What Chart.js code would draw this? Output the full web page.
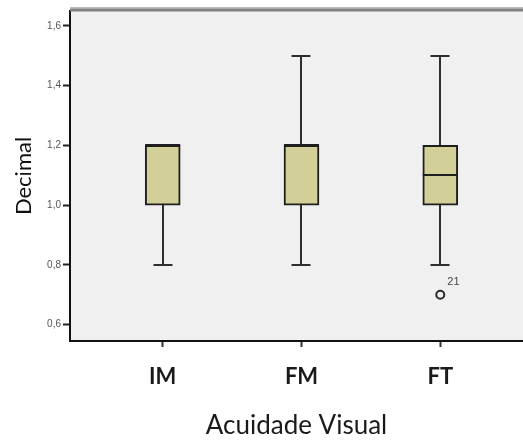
<!DOCTYPE html>
<html><head><meta charset="utf-8">
<script src="https://cdn.jsdelivr.net/npm/chart.js@4"></script>
<style>html,body{margin:0;padding:0;background:#fff}#wrap{width:523px;height:441px}</style>
</head><body><div id="wrap"><canvas id="c" width="523" height="441"></canvas></div>
<script>
// ---- data ----
const categories = ['IM', 'FM', 'FT'];
const whiskerLow = [0.8, 0.8, 0.8];
const q1 = [1.0, 1.0, 1.0];
const median = [1.2, 1.2, 1.1];
const q3 = [1.2, 1.2, 1.2];
const whiskerHigh = [1.2, 1.5, 1.5];
const outlierCategory = [3];
const outlierValue = [0.7];
const outlierLabel = ['21'];
const yAxisTitle = 'Decimal';
const xAxisTitle = 'Acuidade Visual';

const catPos = categories.map((c, i) => i + 1);

const boxPlugin = {
  id: 'boxplot',
  beforeDraw(chart) {
    const { ctx, chartArea: a } = chart;
    ctx.save();
    ctx.fillStyle = '#f0f0f0';
    ctx.fillRect(a.left, a.top, a.right - a.left, a.bottom - a.top);
    ctx.restore();
  },
  beforeDatasetsDraw(chart) {
    const { ctx, scales: { x, y } } = chart;
    ctx.save();
    ctx.strokeStyle = '#2e2e2e';
    ctx.lineWidth = 2;
    catPos.forEach((p, i) => {
      const px = Math.round(x.getPixelForValue(p));
      ctx.beginPath();
      ctx.moveTo(px, y.getPixelForValue(whiskerHigh[i]));
      ctx.lineTo(px, y.getPixelForValue(q3[i]));
      ctx.moveTo(px, y.getPixelForValue(q1[i]));
      ctx.lineTo(px, y.getPixelForValue(whiskerLow[i]));
      ctx.stroke();
      ctx.beginPath();
      if (whiskerHigh[i] > q3[i]) {
        const yh = Math.round(y.getPixelForValue(whiskerHigh[i]));
        ctx.moveTo(px - 9.5, yh); ctx.lineTo(px + 9.5, yh);
      }
      const yl = Math.round(y.getPixelForValue(whiskerLow[i]));
      ctx.moveTo(px - 9.5, yl); ctx.lineTo(px + 9.5, yl);
      ctx.stroke();
    });
    ctx.restore();
  },
  afterDatasetsDraw(chart) {
    const { ctx, scales: { x, y } } = chart;
    ctx.save();
    ctx.strokeStyle = '#1e1e1e';
    ctx.lineWidth = 2;
    catPos.forEach((p, i) => {
      const px = x.getPixelForValue(p);
      const ym = Math.round(y.getPixelForValue(median[i]));
      ctx.beginPath();
      ctx.moveTo(px - 17.5, ym); ctx.lineTo(px + 17.5, ym);
      ctx.stroke();
    });
    ctx.fillStyle = '#444';
    ctx.font = '11px "Liberation Sans", Arial, sans-serif';
    ctx.textAlign = 'left';
    ctx.textBaseline = 'alphabetic';
    outlierCategory.forEach((c, i) => {
      const px = x.getPixelForValue(c);
      const py = y.getPixelForValue(outlierValue[i]);
      ctx.fillText(outlierLabel[i], px + 7, py - 10);
    });
    ctx.restore();
  },
  afterDraw(chart) {
    const { ctx, chartArea: a } = chart;
    ctx.save();
    ctx.fillStyle = '#bdbdbd';
    ctx.fillRect(a.left, a.top - 4, a.right - a.left, 1.5);
    ctx.fillStyle = '#7f7f7f';
    ctx.fillRect(a.left, a.top - 2.5, a.right - a.left, 3);
    ctx.restore();
  }
};

new Chart(document.getElementById('c'), {
  data: {
    datasets: [
      {
        type: 'bar',
        data: catPos.map((p, i) => ({ x: p, y: [q1[i], q3[i]] })),
        backgroundColor: '#d3cf98',
        borderColor: '#1e1e1e',
        borderWidth: 2,
        borderSkipped: false,
        barThickness: 35,
        order: 2
      },
      {
        type: 'scatter',
        data: outlierCategory.map((c, i) => ({ x: c, y: outlierValue[i] })),
        pointStyle: 'circle',
        pointRadius: 4,
        pointBackgroundColor: '#f0f0f0',
        pointBorderColor: '#2a2a2a',
        pointBorderWidth: 2,
        order: 1
      }
    ]
  },
  options: {
    responsive: false,
    animation: false,
    layout: { autoPadding: false, padding: { top: 11, right: 0, left: 0, bottom: 0 } },
    plugins: { legend: { display: false }, tooltip: { enabled: false } },
    scales: {
      x: {
        type: 'linear',
        offset: false,
        min: 0.332,
        max: 3.596,
        afterFit(s) { s.height = 100; s.paddingRight = 0; s.paddingLeft = 0; },
        afterBuildTicks(s) { s.ticks = catPos.map(v => ({ value: v })); },
        grid: { offset: false, drawOnChartArea: false, tickLength: 6, tickWidth: 2, tickColor: '#333' },
        border: { display: true, color: '#111', width: 2 },
        ticks: {
          padding: 17,
          color: '#1a1a1a',
          font: { family: 'Lato', size: 22, weight: 'bold' },
          callback: (v) => categories[v - 1]
        },
        title: {
          display: true,
          text: xAxisTitle,
          color: '#1a1a1a',
          font: { family: 'Lato', size: 26 },
          padding: { top: 0, bottom: 0 }
        }
      },
      y: {
        type: 'linear',
        min: 0.545,
        max: 1.65,
        afterFit(s) { s.width = 70; },
        grid: { drawOnChartArea: false, tickLength: 7, tickWidth: 2, tickColor: '#222' },
        border: { display: true, color: '#111', width: 2 },
        ticks: {
          stepSize: 0.2,
          includeBounds: false,
          padding: 2,
          color: '#555',
          font: { family: 'Liberation Sans', size: 10 },
          callback: (v) => v.toFixed(1).replace('.', ',')
        },
        title: {
          display: true,
          text: yAxisTitle,
          color: '#111',
          font: { family: 'Lato', size: 22 },
          padding: { top: 11, bottom: 0 }
        }
      }
    }
  },
  plugins: [boxPlugin]
});
</script>
</body></html>
